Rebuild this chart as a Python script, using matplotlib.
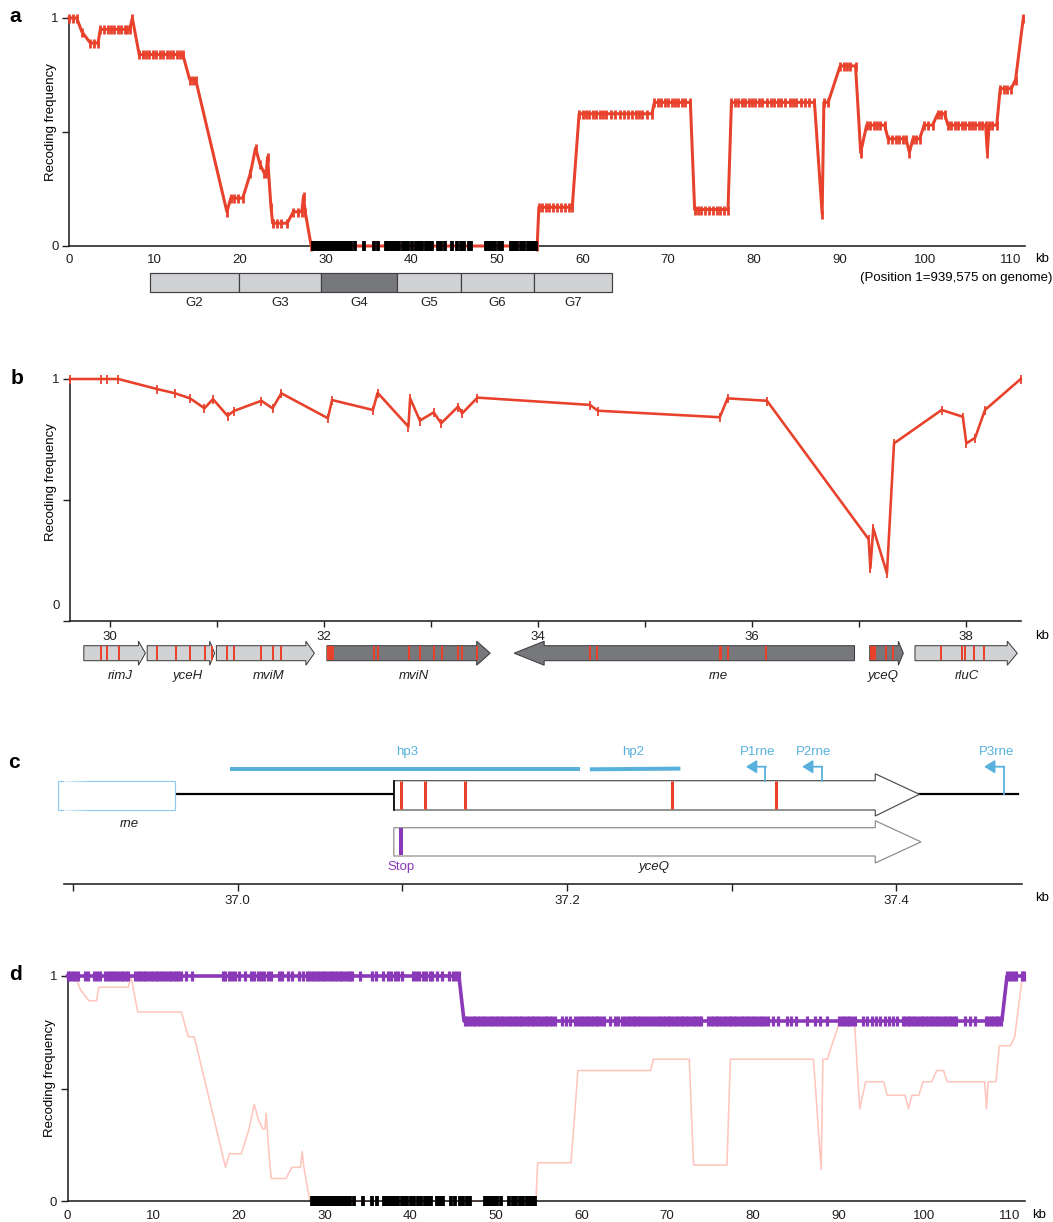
import numpy as np
import matplotlib
matplotlib.use('Agg')
import matplotlib.pyplot as plt
from matplotlib.patches import Polygon, Rectangle

plt.rcParams['font.family'] = ['Liberation Sans', 'DejaVu Sans']
plt.rcParams['font.size'] = 9.5

# ---------------- data ----------------
# panel a (and pink trace in d): recoding frequency along 112 kb
a_kb = [0.0, 0.45, 0.9, 1.5, 2.5, 2.95, 3.4,
        3.65, 4.1, 4.5, 4.9, 5.3, 5.7, 6.1, 6.5, 6.8, 7.1, 7.4,
        8.2, 8.6, 9.0, 9.4, 9.8, 10.2, 10.6, 11.0, 11.4, 11.8, 12.2, 12.6, 13.0, 13.3,
        14.1, 14.45, 14.8, 18.45, 18.9, 19.3, 19.8, 20.3,
        21.2, 21.8, 22.3, 22.8, 23.05, 23.2, 23.6, 23.8, 24.3, 24.8, 25.5,
        26.2, 26.7, 27.2, 27.4, 27.6, 28.3,
        54.7, 54.9, 55.3, 55.7, 56.1, 56.5, 57.0, 57.5, 58.0, 58.4, 58.8,
        59.6, 60.0, 60.4, 60.8, 61.2, 61.6, 62.0, 62.4, 62.8, 63.3,
        63.8, 64.4, 64.8, 65.3, 65.8, 66.2, 66.6, 67.0, 67.5, 68.1,
        68.4, 68.8, 69.2, 69.6, 70.0, 70.4, 70.8, 71.2, 71.6, 72.0, 72.6,
        73.1, 73.5, 73.9, 74.3, 74.8, 75.3, 75.7, 76.1, 76.5, 77.0,
        77.4, 77.8, 78.2, 78.6, 79.0, 79.4, 79.8, 80.2, 80.6, 81.0, 81.6, 82.0,
        82.4, 82.8, 83.2, 83.7, 84.2, 84.6, 85.0, 85.5, 86.0, 86.5, 87.1,
        88.0, 88.2, 88.7, 90.1, 90.5, 90.9, 91.3, 91.9,
        92.5, 93.2, 93.6, 94.0, 94.4, 94.8, 95.3,
        95.7, 96.2, 96.6, 97.0, 97.4, 97.8, 98.2, 98.6, 99.0, 99.4,
        99.9, 100.4, 100.9, 101.5, 101.9, 102.3,
        102.7, 103.1, 103.5, 103.9, 104.3, 104.7, 105.1, 105.5, 105.9, 106.3, 106.7, 107.1,
        107.3, 107.5, 107.9, 108.4,
        108.8, 109.2, 109.6, 110.1, 110.6, 111.5]
a_freq = [1.0, 1.0, 1.0, 0.94, 0.89, 0.89, 0.89,
          0.95, 0.95, 0.95, 0.95, 0.95, 0.95, 0.95, 0.95, 0.95, 0.95, 1.0,
          0.84, 0.84, 0.84, 0.84, 0.84, 0.84, 0.84, 0.84, 0.84, 0.84, 0.84, 0.84, 0.84, 0.84,
          0.73, 0.73, 0.73, 0.15, 0.21, 0.21, 0.21, 0.21,
          0.32, 0.43, 0.36, 0.32, 0.32, 0.39, 0.17, 0.10, 0.10, 0.10, 0.10,
          0.15, 0.15, 0.15, 0.22, 0.15, 0.0,
          0.0, 0.17, 0.17, 0.17, 0.17, 0.17, 0.17, 0.17, 0.17, 0.17, 0.17,
          0.58, 0.58, 0.58, 0.58, 0.58, 0.58, 0.58, 0.58, 0.58, 0.58,
          0.58, 0.58, 0.58, 0.58, 0.58, 0.58, 0.58, 0.58, 0.58, 0.58,
          0.63, 0.63, 0.63, 0.63, 0.63, 0.63, 0.63, 0.63, 0.63, 0.63, 0.63,
          0.16, 0.16, 0.16, 0.16, 0.16, 0.16, 0.16, 0.16, 0.16, 0.16,
          0.63, 0.63, 0.63, 0.63, 0.63, 0.63, 0.63, 0.63, 0.63, 0.63, 0.63, 0.63,
          0.63, 0.63, 0.63, 0.63, 0.63, 0.63, 0.63, 0.63, 0.63, 0.63, 0.63,
          0.14, 0.63, 0.63, 0.79, 0.79, 0.79, 0.79, 0.79,
          0.41, 0.53, 0.53, 0.53, 0.53, 0.53, 0.53,
          0.47, 0.47, 0.47, 0.47, 0.47, 0.47, 0.41, 0.47, 0.47, 0.47,
          0.53, 0.53, 0.53, 0.58, 0.58, 0.58,
          0.53, 0.53, 0.53, 0.53, 0.53, 0.53, 0.53, 0.53, 0.53, 0.53, 0.53, 0.53,
          0.41, 0.53, 0.53, 0.53,
          0.69, 0.69, 0.69, 0.69, 0.73, 1.0]

# unrecoded (frequency 0) positions, black marks
zero_kb = [28.5, 28.8, 29.1, 29.4, 29.7, 30.0, 30.3, 30.6, 30.9, 31.2, 31.5, 31.8, 32.1,
           32.4, 32.7, 33.0, 33.4, 34.5, 35.6, 36.1, 37.0, 37.3, 37.6, 38.0, 38.3, 38.6,
           39.0, 39.3, 39.6, 40.1, 40.5, 40.9, 41.3, 41.7, 42.1, 42.4, 43.1, 43.5, 43.9,
           44.8, 45.3, 45.8, 46.2, 46.7, 47.0, 48.7, 49.1, 49.4, 49.8, 50.2, 50.6, 51.6,
           52.0, 52.4, 52.8, 53.2, 53.6, 54.0, 54.3, 54.6]

group_names = ['G2', 'G3', 'G4', 'G5', 'G6', 'G7']
group_edges = [9.41, 19.85, 29.49, 38.37, 45.77, 54.35, 63.5]
group_highlight = 'G4'

# panel b: zoom 29.6-38.5 kb
b_kb = [29.627, 29.921, 29.971, 30.079, 30.436, 30.609, 30.749, 30.884, 30.963, 31.099,
        31.159, 31.415, 31.520, 31.602, 32.037, 32.076, 32.458, 32.502, 32.790, 32.806,
        32.897, 33.026, 33.096, 33.254, 33.292, 33.435, 34.486, 34.559, 35.700, 35.772,
        36.141, 37.091, 37.107, 37.134, 37.262, 37.328, 37.773, 37.971, 38.004, 38.086,
        38.178, 38.512]
b_freq = [1.0, 1.0, 1.0, 1.0, 0.959, 0.941, 0.920, 0.879, 0.917, 0.848,
          0.868, 0.910, 0.879, 0.941, 0.838, 0.913, 0.872, 0.943, 0.803, 0.920,
          0.828, 0.862, 0.817, 0.886, 0.858, 0.923, 0.893, 0.869, 0.842, 0.920,
          0.910, 0.338, 0.218, 0.383, 0.197, 0.734, 0.872, 0.844, 0.734, 0.757,
          0.872, 1.0]

gene_names = ['rimJ', 'yceH', 'mviM', 'mviN', 'rne', 'yceQ', 'rluC']
gene_start = [29.756, 30.348, 30.995, 32.028, 33.778, 37.101, 37.524]
gene_end = [30.332, 30.979, 31.911, 33.554, 36.959, 37.415, 38.480]
gene_forward = [True, True, True, True, False, True, True]
gene_essential = [False, False, False, True, True, True, False]
gene_label_kb = [30.094, 30.726, 31.485, 32.843, 35.690, 37.228, 38.008]
gene_codons = [[29.921, 29.971, 30.085],
               [30.442, 30.613, 30.751, 30.891, 30.957],
               [31.096, 31.159, 31.415, 31.520, 31.602],
               [32.464, 32.502, 32.796, 32.897, 33.026, 33.103, 33.254, 33.292, 33.435],
               [34.486, 34.556, 35.772, 36.134],
               [37.251, 37.316],
               [37.764, 37.961, 37.989, 38.076, 38.169]]
gene_codon_blocks = [[], [], [], [(32.028, 32.094)], [(35.690, 35.716)], [(37.101, 37.160)], []]

# panel c: rne / yceQ region
c_rne = (36.8913, 36.9619)
c_yceq = (37.0949, 37.3872, 37.4140)
c_yceq_alt = (37.0949, 37.3872, 37.4150)
c_recoded = [37.0990, 37.1140, 37.1380, 37.2638, 37.3267]
c_stop = 37.0990
c_line_end = 37.4739
hairpin_names = ['hp3', 'hp2']
hairpin_start = [36.9954, 37.2139]
hairpin_end = [37.2077, 37.2689]
hairpin_label = [37.1032, 37.2403]
prom_names = ['P1rne', 'P2rne', 'P3rne']
prom_kb = [37.3205, 37.3546, 37.4652]
prom_tip = [37.3087, 37.3428, 37.4533]
prom_label = [37.3160, 37.3500, 37.4611]

# panel d: second series (purple)
purple_line_kb = [0.0, 45.7, 46.3, 109.1, 109.7, 111.7]
purple_line_val = [1.0, 1.0, 0.8, 0.8, 1.0, 1.0]
purple_high_kb = [0.0, 0.3, 0.6, 0.9, 1.2, 2.1, 2.4, 3.1, 3.5, 3.8, 4.4, 4.7, 5.0, 5.3,
                  5.6, 5.9, 6.2, 6.5, 6.8, 7.1, 7.9, 8.2, 8.5, 8.8, 9.1, 9.4, 9.7, 10.0,
                  10.3, 10.6, 10.9, 11.2, 11.5, 11.8, 12.1, 12.4, 12.7, 12.9, 13.3, 13.8,
                  14.5, 18.1, 18.4, 18.8, 19.2, 19.6, 20.0, 20.7, 21.4, 21.8, 22.2, 22.6,
                  23.0, 23.4, 23.8, 24.7, 25.1, 25.8, 26.2, 27.0, 27.5, 28.0, 28.2, 28.5,
                  28.8, 29.1, 29.4, 29.7, 30.0, 30.3, 30.6, 30.9, 31.2, 31.5, 31.8, 32.1,
                  32.4, 32.7, 33.0, 33.2, 34.2, 35.6, 36.0, 36.8, 37.4, 37.8, 38.2, 38.6,
                  39.0, 40.3, 40.7, 41.1, 41.5, 41.9, 42.3, 42.6, 43.2, 43.7, 44.6, 45.0,
                  45.4, 45.7, 109.7, 110.0, 110.4, 110.8, 111.4, 111.7]
purple_low_kb = [46.4, 46.7, 47.0, 47.3, 47.6, 47.9, 48.2, 48.5, 48.8, 49.1, 49.4, 49.7,
                 50.0, 50.3, 50.6, 50.9, 51.2, 51.5, 51.8, 52.1, 52.4, 52.7, 53.0, 53.3,
                 53.6, 53.9, 54.2, 54.5, 54.8, 55.1, 55.4, 55.7, 56.0, 56.3, 56.6, 56.9,
                 57.7, 58.2, 58.7, 59.3, 59.6, 59.9, 60.2, 60.5, 60.8, 61.1, 61.4, 61.7,
                 62.0, 62.3, 62.7, 63.3, 63.9, 64.3, 64.7, 65.1, 65.4, 65.7, 66.0, 66.3,
                 66.6, 66.9, 67.2, 67.5, 67.9, 68.3, 68.6, 68.9, 69.2, 69.5, 69.8, 70.1,
                 70.4, 70.7, 71.0, 71.3, 71.6, 71.9, 72.2, 72.5, 72.8, 73.1, 73.4, 73.7,
                 74.0, 74.8, 75.1, 75.4, 75.7, 76.0, 76.3, 76.6, 76.9, 77.2, 77.5, 77.8,
                 78.1, 78.4, 78.7, 79.0, 79.3, 79.6, 79.9, 80.2, 80.5, 80.8, 81.1, 81.4,
                 81.8, 82.4, 83.0, 84.0, 84.5, 85.1, 86.3, 87.3, 87.9, 88.7, 90.1, 90.4,
                 90.7, 91.0, 91.3, 91.6, 91.9, 92.9, 93.4, 93.9, 94.4, 94.9, 95.4, 95.9,
                 96.4, 96.9, 97.5, 97.8, 98.1, 98.4, 98.7, 99.0, 99.3, 99.6, 99.9, 100.2,
                 100.5, 100.8, 101.1, 101.4, 101.7, 102.0, 102.3, 102.6, 102.9, 103.2,
                 103.5, 103.8, 104.8, 105.4, 106.0, 107.2, 107.5, 107.8, 108.1, 108.4,
                 108.7, 109.0]
purple_high_level = 1.0
purple_low_level = 0.8

# ---------------- style ----------------
RED = '#e8412c'
PINK = '#ffc6be'
PURPLE = '#8a3ab9'
BLUE = '#58b1dd'
LGRAY = '#d1d2d4'
DGRAY = '#77787b'
AXC = '#231f20'
PX = 0.72  # points per pixel at 100 dpi

W, H = 1053, 1222
fig = plt.figure(figsize=(W / 100, H / 100), dpi=100)


def axes_px(l, t, r, b):
    return fig.add_axes([l / W, 1 - b / H, (r - l) / W, (b - t) / H])


def ftext(x, y, s, **kw):
    fig.text(x / W, 1 - y / H, s, **kw)


def style_axis(ax, left=True):
    for s in ['top', 'right']:
        ax.spines[s].set_visible(False)
    ax.spines['bottom'].set_linewidth(1.6 * PX)
    ax.spines['bottom'].set_color(AXC)
    if left:
        ax.spines['left'].set_linewidth(1.6 * PX)
        ax.spines['left'].set_color(AXC)
    else:
        ax.spines['left'].set_visible(False)
    ax.tick_params(colors=AXC, labelsize=9.5, width=1.4 * PX)
    ax.patch.set_alpha(0)


# ---------------- panel a ----------------
axA = axes_px(69, 18, 1025, 246)
axA.plot(a_kb, a_freq, color=RED, lw=3 * PX, marker='|', ms=9 * PX, mew=2.8 * PX,
         clip_on=False, zorder=3)
axA.plot(zero_kb, [0] * len(zero_kb), ls='none', marker='|', ms=10 * PX, mew=3.8 * PX,
         color='black', clip_on=False, zorder=4)
axA.set_xlim(0, 111.7)
axA.set_ylim(0, 1)
style_axis(axA)
axA.set_yticks([0, 0.5, 1])
axA.set_yticklabels(['0', '', '1'])
axA.set_xticks(range(0, 111, 10))
axA.tick_params(axis='y', direction='out', length=7 * PX, pad=2.5)
axA.tick_params(axis='x', length=0, pad=5.5)
ftext(1042, 259, 'kb', ha='center', va='center', fontsize=9.5)
ftext(1052, 278, '(Position 1=939,575 on genome)', ha='right', va='center', fontsize=9.5)
ftext(51, 122, 'Recoding frequency', rotation=90, ha='center', va='center', fontsize=9.5)
ftext(15, 17, 'a', ha='center', va='center', fontsize=15, fontweight='bold')

axG = axes_px(69, 265, 1025, 312)
axG.set_xlim(0, 111.7)
axG.set_ylim(312, 265)
axG.axis('off')
for i, name in enumerate(group_names):
    x0, x1 = group_edges[i], group_edges[i + 1]
    fc = DGRAY if name == group_highlight else LGRAY
    axG.add_patch(Rectangle((x0, 272.7), x1 - x0, 19, facecolor=fc, edgecolor='#414042',
                            lw=1.2 * PX, clip_on=False))
    axG.text((x0 + x1) / 2, 302.5, name, ha='center', va='center', fontsize=9.5, color=AXC)

# ---------------- panel b ----------------
axB = axes_px(70, 379, 1020.7, 621)
axB.plot(b_kb, b_freq, color=RED, lw=2.6 * PX, marker='|', ms=9 * PX, mew=1.8 * PX,
         clip_on=False, zorder=3)
axB.set_xlim(29.627, 38.512)
axB.set_ylim(0, 1)
style_axis(axB)
axB.set_yticks([0, 0.5, 1])
axB.set_yticklabels(['', '', '1'])
axB.tick_params(axis='y', direction='out', length=7 * PX, pad=2.5)
axB.set_xticks(range(30, 39))
axB.set_xticklabels(['30', '', '32', '', '34', '', '36', '', '38'])
axB.tick_params(axis='x', direction='out', length=6 * PX, pad=3)
ftext(59.5, 606, '0', ha='right', va='center', fontsize=9.5, color=AXC)
ftext(1042, 636, 'kb', ha='center', va='center', fontsize=9.5)
ftext(51, 482, 'Recoding frequency', rotation=90, ha='center', va='center', fontsize=9.5)
ftext(17, 379, 'b', ha='center', va='center', fontsize=15, fontweight='bold')

axBG = axes_px(70, 636, 1020.7, 690)
axBG.set_xlim(29.627, 38.512)
axBG.set_ylim(690, 636)
axBG.axis('off')
yc, bh, hh = 653.2, 7.5, 12.0
head_px = [7, 5, 8.5, 13.5, 30, 5, 10]
kb_per_px = (38.512 - 29.627) / (1020.7 - 70)
for i, name in enumerate(gene_names):
    x0, x1 = gene_start[i], gene_end[i]
    hl = head_px[i] * kb_per_px
    if gene_forward[i]:
        pts = [(x0, yc - bh), (x1 - hl, yc - bh), (x1 - hl, yc - hh), (x1, yc),
               (x1 - hl, yc + hh), (x1 - hl, yc + bh), (x0, yc + bh)]
    else:
        pts = [(x1, yc - bh), (x0 + hl, yc - bh), (x0 + hl, yc - hh), (x0, yc),
               (x0 + hl, yc + hh), (x0 + hl, yc + bh), (x1, yc + bh)]
    fc = DGRAY if gene_essential[i] else LGRAY
    axBG.add_patch(Polygon(pts, closed=True, facecolor=fc, edgecolor='#3a3a3c',
                           lw=1.0 * PX, zorder=2, clip_on=False))
    for c in gene_codons[i]:
        axBG.plot([c, c], [yc - bh + 0.6, yc + bh - 0.6], color=RED, lw=2 * PX,
                  solid_capstyle='butt', zorder=3, clip_on=False)
    for (c0, c1) in gene_codon_blocks[i]:
        axBG.add_patch(Rectangle((c0, yc - bh + 0.6), c1 - c0, 2 * bh - 1.2,
                                 facecolor=RED, edgecolor='none', zorder=3, clip_on=False))
    axBG.text(gene_label_kb[i], 676, name, ha='center', va='center', fontsize=9.5,
              style='italic', color=AXC)

# ---------------- panel c ----------------
axC = axes_px(63.6, 740, 1022, 884.3)
style_axis(axC, left=False)
axC.set_yticks([])
axC.set_xticks([36.9, 37.0, 37.1, 37.2, 37.3, 37.4])
axC.set_xticklabels(['', '37.0', '', '37.2', '', '37.4'])
axC.tick_params(axis='x', direction='out', length=7 * PX, pad=3)

# rne box (faded left end)
axC.add_patch(Rectangle((c_rne[0], 780.7), c_rne[1] - c_rne[0], 29.3, facecolor='white',
                        edgecolor='#8fcbe8', lw=1.2 * PX, zorder=2, clip_on=False))
grad = np.ones((1, 200, 4))
grad[0, :, 3] = np.linspace(1, 0, 200)
axC.imshow(grad, extent=(c_rne[0] - 0.0015, c_rne[0] + 0.019, 812, 779), aspect='auto',
           zorder=3, interpolation='bilinear')
axC.text(36.9344, 824.3, 'rne', ha='center', va='center', style='italic', fontsize=9.5,
         color=AXC)
# genomic line
axC.plot([c_rne[1], c_yceq[0]], [794.3, 794.3], color='black', lw=2.2 * PX, zorder=1)
axC.plot([c_yceq[2], c_line_end], [794.3, 794.3], color='black', lw=2.2 * PX, zorder=1,
         clip_on=False)
# recoded yceQ (top)
s0, hb, tip = c_yceq
pts = [(s0, 780.7), (hb, 780.7), (hb, 773.8), (tip, 794.3), (hb, 816.0), (hb, 810.0),
       (s0, 810.0)]
axC.add_patch(Polygon(pts, closed=True, facecolor='white', edgecolor='#4d4d4f',
                      lw=1.2 * PX, zorder=2))
axC.plot([s0, s0], [780.7, 810], color='black', lw=1.6 * PX, zorder=3)
for c in c_recoded:
    axC.plot([c, c], [781.3, 809.4], color=RED, lw=3 * PX, solid_capstyle='butt', zorder=4)
# alternative yceQ (bottom)
s0, hb, tip = c_yceq_alt
pts = [(s0, 827.7), (hb, 827.7), (hb, 820.7), (tip, 841.9), (hb, 863.0), (hb, 856.0),
       (s0, 856.0)]
axC.add_patch(Polygon(pts, closed=True, facecolor='white', edgecolor='#8c8c8e',
                      lw=1.2 * PX, zorder=2))
axC.plot([c_stop, c_stop], [828.3, 855.4], color=PURPLE, lw=4 * PX, solid_capstyle='butt',
         zorder=4)
axC.text(c_stop, 866.7, 'Stop', ha='center', va='center', color=PURPLE, fontsize=9.5)
axC.text(37.2531, 866.7, 'yceQ', ha='center', va='center', style='italic', fontsize=9.5,
         color=AXC)
# hairpins
for i, name in enumerate(hairpin_names):
    axC.plot([hairpin_start[i], hairpin_end[i]], [769.3, 768.6 if i else 769.3], color=BLUE,
             lw=4 * PX, solid_capstyle='butt', zorder=2)
    axC.text(hairpin_label[i], 751.7, name, ha='center', va='center', color=BLUE,
             fontsize=9.5)
# promoters
prom_base = [780.7, 780.7, 794.3]
for i, name in enumerate(prom_names):
    axC.plot([prom_kb[i], prom_kb[i]], [prom_base[i], 766.7], color=BLUE, lw=1.8 * PX,
             zorder=3, clip_on=False)
    axC.annotate('', xy=(prom_tip[i], 766.7), xytext=(prom_kb[i] + 0.0004, 766.7),
                 arrowprops=dict(arrowstyle='-|>,head_length=0.45,head_width=0.28',
                                 color=BLUE, lw=1.8 * PX, shrinkA=0, shrinkB=0,
                                 mutation_scale=14), annotation_clip=False)
    axC.text(prom_label[i], 751.7, name, ha='center', va='center', color=BLUE, fontsize=9.5)
axC.set_xlim(36.8944, 37.4763)
axC.set_ylim(884.3, 740)
ftext(1041.8, 898.3, 'kb', ha='center', va='center', fontsize=9.5)
ftext(14, 763, 'c', ha='center', va='center', fontsize=15, fontweight='bold')

# ---------------- panel d ----------------
axD = axes_px(67.5, 976, 1025, 1201)
axD.plot(a_kb, a_freq, color=PINK, lw=1.6 * PX, zorder=1, clip_on=False)
axD.plot(purple_line_kb, purple_line_val, color=PURPLE, lw=3.6 * PX, zorder=3,
         clip_on=False)
axD.plot(purple_high_kb, [purple_high_level] * len(purple_high_kb), ls='none', marker='|',
         ms=10 * PX, mew=3.2 * PX, color=PURPLE, zorder=4, clip_on=False)
axD.plot(purple_low_kb, [purple_low_level] * len(purple_low_kb), ls='none', marker='|',
         ms=10 * PX, mew=3.2 * PX, color=PURPLE, zorder=4, clip_on=False)
axD.plot(zero_kb, [0] * len(zero_kb), ls='none', marker='|', ms=10 * PX, mew=3.8 * PX,
         color='black', clip_on=False, zorder=5)
axD.set_xlim(0, 111.8)
axD.set_ylim(0, 1)
style_axis(axD)
axD.set_yticks([0, 0.5, 1])
axD.set_yticklabels(['0', '', '1'])
axD.set_xticks(range(0, 111, 10))
axD.tick_params(axis='y', direction='out', length=7 * PX, pad=2.5)
axD.tick_params(axis='x', length=0, pad=6.5)
ftext(1039.5, 1215, 'kb', ha='center', va='center', fontsize=9.5)
ftext(50, 1078, 'Recoding frequency', rotation=90, ha='center', va='center', fontsize=9.5)
ftext(16, 974, 'd', ha='center', va='center', fontsize=15, fontweight='bold')

fig.savefig('out.png', dpi=100)
